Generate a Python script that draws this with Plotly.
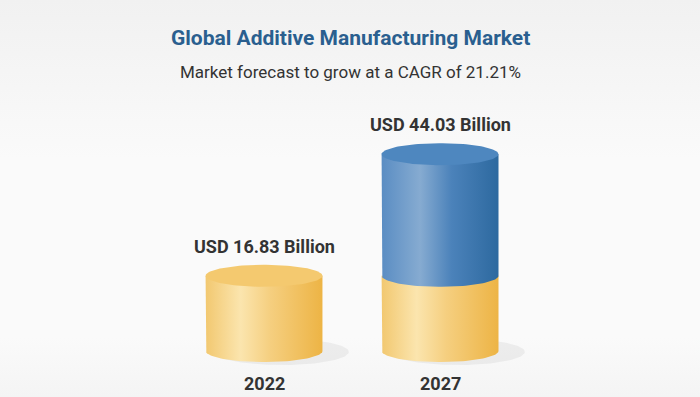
import numpy as np
import plotly.graph_objects as go

# ---- data ----
years = ["2022", "2027"]
base_values = [16.83, 16.83]          # yellow segment (2022 market size)
growth_values = [0.0, 44.03 - 16.83]  # blue segment (growth to 2027)
total_labels = ["USD 16.83 Billion", "USD 44.03 Billion"]
title_text = "Global Additive Manufacturing Market"
subtitle_text = "Market forecast to grow at a CAGR of 21.21%"

# ---- style ----
X_RANGE = [-1.5, 2.477]
Y_RANGE = [-10.29, 78.52]
HALF_W = 0.332   # cylinder half width (x units)
RY = 2.46        # ellipse vertical radius (y units)
YEL_SCALE = [[0, "#f2c870"], [0.3, "#fbe5ae"], [0.55, "#f5cf80"], [1, "#edb445"]]
BLU_SCALE = [[0, "#5a8dc3"], [0.33, "#86abd1"], [0.6, "#4b82ba"], [1, "#2d699f"]]
YEL_TOP = "#f4c96f"
BLU_TOP = "#4e87bf"

fig = go.Figure()

# soft background gradient
fig.add_trace(go.Scatter(
    x=[X_RANGE[0], X_RANGE[1], X_RANGE[1], X_RANGE[0], X_RANGE[0]],
    y=[Y_RANGE[0], Y_RANGE[0], Y_RANGE[1], Y_RANGE[1], Y_RANGE[0]],
    mode="lines", line=dict(width=0), fill="toself",
    fillgradient=dict(type="vertical",
                      colorscale=[[0, "#f4f4f4"], [0.15, "#fafafa"], [0.6, "#fafafa"], [1, "#f1f1f1"]]),
    hoverinfo="skip", showlegend=False))

t_front = np.linspace(np.pi, 2 * np.pi, 60)
t_full = np.linspace(0, 2 * np.pi, 120)


def body(cx, y0, y1, scale):
    xs = [cx - HALF_W] + list(cx + HALF_W * np.cos(t_front)) + [cx + HALF_W, cx - HALF_W]
    ys = [y1] + list(y0 + RY * np.sin(t_front)) + [y1, y1]
    fig.add_trace(go.Scatter(x=xs, y=ys, mode="lines", line=dict(width=0),
                             fill="toself",
                             fillgradient=dict(type="horizontal", colorscale=scale),
                             hoverinfo="skip", showlegend=False))


def top(cx, y, color):
    fig.add_trace(go.Scatter(x=cx + HALF_W * np.cos(t_full), y=y + RY * np.sin(t_full),
                             mode="lines", line=dict(width=0), fill="toself",
                             fillcolor=color, hoverinfo="skip", showlegend=False))


def shadow(cx):
    fig.add_trace(go.Scatter(x=cx + 0.1 + (HALF_W + 0.05) * np.cos(t_full),
                             y=-0.2 + (RY + 0.5) * np.sin(t_full),
                             mode="lines", line=dict(width=0), fill="toself",
                             fillcolor="rgba(0,0,0,0.05)", hoverinfo="skip",
                             showlegend=False))


for i, yr in enumerate(years):
    cx = i
    b = base_values[i]
    g = growth_values[i]
    shadow(cx)
    body(cx, 0, b, YEL_SCALE)
    if g > 0:
        body(cx, b, b + g, BLU_SCALE)
        top(cx, b + g, BLU_TOP)
    else:
        top(cx, b, YEL_TOP)
    total = b + g
    fig.add_annotation(x=cx, y=total + RY + 4.2, xref="x", yref="y", yanchor="middle",
                       text=f"<b>{total_labels[i]}</b>", showarrow=False,
                       font=dict(family="Roboto", size=18, color="#333333"))
    fig.add_annotation(x=cx, y=-7.2, xref="x", yref="y", yanchor="middle",
                       text=f"<b>{yr}</b>", showarrow=False,
                       font=dict(family="Roboto", size=18, color="#333333"))

fig.add_annotation(x=0.5, y=1 - 38 / 397, xref="paper", yref="paper", yanchor="middle",
                   text=f"<b>{title_text}</b>", showarrow=False,
                   font=dict(family="Roboto", size=21, color="#2a5f8f"))
fig.add_annotation(x=0.5, y=1 - 72 / 397, xref="paper", yref="paper", yanchor="middle",
                   text=subtitle_text, showarrow=False,
                   font=dict(family="Roboto", size=17, color="#333333"))

fig.update_layout(
    width=700, height=397,
    margin=dict(l=0, r=0, t=0, b=0),
    paper_bgcolor="#f8f8f8", plot_bgcolor="rgba(0,0,0,0)",
    xaxis=dict(range=X_RANGE, visible=False, fixedrange=True),
    yaxis=dict(range=Y_RANGE, visible=False, fixedrange=True),
    showlegend=False,
)

fig.write_html("out.html", config={"displayModeBar": False},
               post_script="document.body.style.margin='0';document.body.style.overflow='hidden';")
